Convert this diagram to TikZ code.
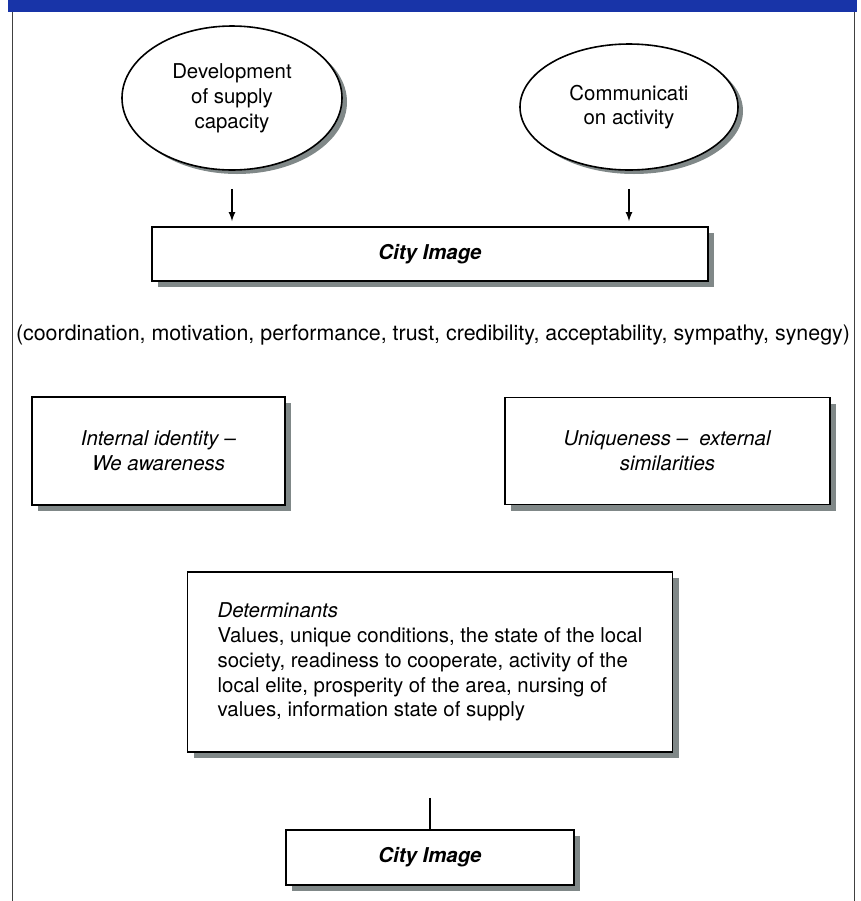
\documentclass[tikz,border=0pt]{standalone}
\usepackage{fontspec}
\setmainfont{TeX Gyre Heros}
\usepackage{xcolor}
\usepackage{tikz}
\usetikzlibrary{shapes,arrows,shadows}

\definecolor{barblue}{RGB}{24,52,168}
\definecolor{shadowgray}{RGB}{128,136,136}

\begin{document}
\begin{tikzpicture}[x=0.5pt, y=-0.5pt, font=\fontsize{10.2}{12.4}\selectfont,
    oval/.style={ellipse, draw, thick, fill=white, align=center, inner sep=0pt,
        drop shadow={shadow xshift=2.5pt, shadow yshift=-2pt, fill=shadowgray, opacity=1}},
    box/.style={rectangle, draw, thick, fill=white, align=center,
        drop shadow={shadow xshift=3pt, shadow yshift=-3pt, fill=shadowgray, opacity=1}},
    line/.style={draw, ->, >=latex, semithick}]

    \useasboundingbox (0,0) rectangle (861,901);

    % Frame
    \fill [barblue] (8,0) rectangle (857,12);
    \draw [gray!50!black] (12,12) -- (12,901);
    \draw [gray!50!black] (854,12) -- (854,901);

    % Sources
    \node [oval, minimum width=110pt, minimum height=72pt] (devel) at (232,98) {Development\\of supply\\capacity};
    \node [oval, minimum width=109pt, minimum height=63pt] (commu) at (629,107) {Communicati\\on activity};

    % Image
    \node [box, minimum width=278pt, minimum height=27pt] (image) at (430,254) {\textbf{\textit{City Image}}};
    \node [font=\fontsize{10.7}{13}\selectfont] (traits) at (433,335) {(coordination, motivation, performance, trust, credibility, acceptability, sympathy, synegy)};

    % Identity
    \node [box, minimum width=126.5pt, minimum height=54pt] (inner) at (158.5,451) {\textit{Internal identity --}\\\textit{We awareness}};
    \node [box, minimum width=162.5pt, minimum height=53.5pt] (unique) at (667.5,451) {\textit{Uniqueness --\ \ external}\\\textit{similarities}};

    % Determinants
    \node [box, align=left, minimum width=242.5pt, minimum height=90pt] (determ) at (430,662)
        {\textit{Determinants}\\Values, unique conditions, the state of the local\\society, readiness to cooperate, activity of the\\local elite, prosperity of the area, nursing of\\values, information state of supply};
    \node [box, minimum width=144pt, minimum height=27.5pt] (image2) at (430,857.5) {\textbf{\textit{City Image}}};

    % Links
    \draw [line, shorten <=9pt, shorten >=2.5pt] (devel.south) -- (devel.south |- image.north);
    \draw [line, shorten <=9pt, shorten >=2.5pt] (commu.south) -- (commu.south |- image.north);
    \draw [semithick, shorten <=22.5pt] (determ.south) -- (image2.north);

\end{tikzpicture}
\end{document}
